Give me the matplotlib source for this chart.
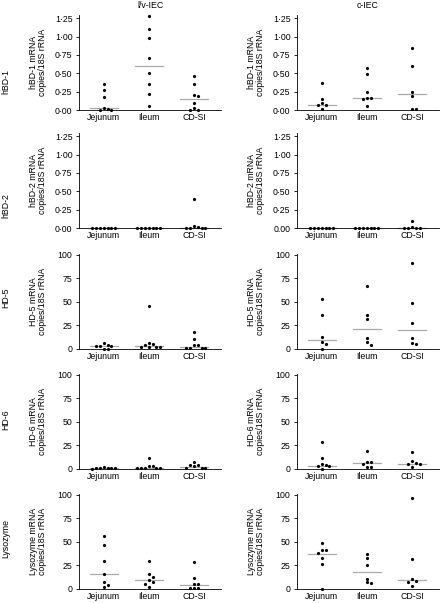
import numpy as np
import matplotlib
matplotlib.use("Agg")
from matplotlib import pyplot as plt

plt.rcParams['font.family'] = ['Liberation Sans', 'DejaVu Sans']

# Categories and labels
sites = ["Jejunum", "Ileum", "CD-SI"]
columns = ["l/v-IEC", "c-IEC"]
genes = ["hBD-1", "hBD-2", "HD-5", "HD-6", "Lysozyme"]

bd_ticks = [0, 0.25, 0.5, 0.75, 1.0, 1.25]
bd_labels = ["0·00", "0·25", "0·50", "0·75", "1·00", "1·25"]
bd_labels_alt = ["0.00", "0·25", "0·50", "0·75", "1·00", "1·25"]
hd_ticks = [0, 25, 50, 75, 100]
hd_labels = ["0", "25", "50", "75", "100"]

# mRNA copies/18S rRNA, one list per site (Jejunum, Ileum, CD-SI)
hbd1_lv = [[0.36, 0.27, 0.18, 0.02, 0.0, 0.0, 0.03],
           [1.28, 1.11, 0.98, 0.71, 0.50, 0.35, 0.22, 0.05],
           [0.47, 0.36, 0.19, 0.205, 0.09, 0.03, 0.0, 0.0]]
hbd1_lv_med = [0.03, 0.605, 0.145]
hbd1_c = [[0.37, 0.15, 0.09, 0.065, 0.065, 0.01],
          [0.57, 0.49, 0.24, 0.16, 0.15, 0.16, 0.055],
          [0.85, 0.60, 0.24, 0.19, 0.01, 0.015]]
hbd1_c_med = [0.065, 0.165, 0.215]

hbd2_lv = [[0, 0, 0, 0, 0, 0, 0],
           [0, 0, 0, 0, 0, 0, 0],
           [0.03, 0, 0, 0, 0, 0.39, 0.02]]
hbd2_lv_med = [0, 0, 0]
hbd2_c = [[0, 0, 0, 0, 0, 0, 0],
          [0, 0, 0, 0, 0, 0, 0],
          [0.1, 0.015, 0, 0, 0, 0]]
hbd2_c_med = [0, 0, 0]

hd5_lv = [[3.5, 3.5, 6.5, 0.5, 0.5, 3.5, 4.5],
          [45.5, 4.5, 6.5, 2.5, 2, 2, 2, 5.3],
          [18.4, 10.6, 4.6, 1, 1, 1, 1, 4.6]]
hd5_lv_med = [3.5, 3.5, 2]
hd5_c = [[53, 35.8, 12.4, 7.8, 5, 0],
         [67.4, 35.8, 31.9, 12, 7, 4.3],
         [91, 49.3, 28, 12, 6.7, 5]]
hd5_c_med = [9.2, 21.3, 19.9]

hd6_lv = [[1.6, 1, 0.8, 0.5, 0.8, 1, 1.2],
          [12, 3.5, 1.5, 1, 0.8, 0.8, 1, 2.8],
          [4.6, 2.8, 7.4, 1, 1, 1, 3.9]]
hd6_lv_med = [1, 1, 2]
hd6_c = [[29, 11.7, 5.7, 3.5, 3.9, 3.5, 0.4],
         [19.5, 7.4, 7.4, 5.7, 1.8, 1.8],
         [18, 8.8, 5.7, 5.7, 6, 1.8]]
hd6_c_med = [3.5, 6, 5.7]

lyso_lv = [[56.4, 46.5, 29.8, 16, 7, 3.9, 2.1],
           [30, 16, 12.4, 9.2, 7.8, 5.7, 1.8],
           [28.4, 11.3, 5.3, 1.4, 1.4, 1.4, 5.3]]
lyso_lv_med = [16, 9.2, 3.9]
lyso_c = [[49, 41, 41, 38, 33, 27, 0.4],
          [37, 32.6, 25.5, 11, 6.7, 7],
          [96.5, 31.9, 8.5, 7.8, 10.3, 3.5]]
lyso_c_med = [37.6, 17.7, 9.6]

panels = [[(hbd1_lv, hbd1_lv_med), (hbd1_c, hbd1_c_med)],
          [(hbd2_lv, hbd2_lv_med), (hbd2_c, hbd2_c_med)],
          [(hd5_lv, hd5_lv_med), (hd5_c, hd5_c_med)],
          [(hd6_lv, hd6_lv_med), (hd6_c, hd6_c_med)],
          [(lyso_lv, lyso_lv_med), (lyso_c, lyso_c_med)]]

# Layout (pixels)
W, H = 441, 603
col_left = [79, 297]
ax_w = 142
row_bottom = [110, 228, 349, 469, 589]
ax_h = 95
row_label_y = [82, 206, 298, 420, 538]
xlim = (-0.55, 2.6)


def swarm(vals, ymax, step_px=3.8, r_px=3.6):
    # simple beeswarm: offsets (in x units) so that dots do not overlap
    x_per_px = (xlim[1] - xlim[0]) / ax_w
    y_px = np.asarray(vals, float) / ymax * ax_h
    order = np.argsort(-y_px, kind='stable')
    placed = []
    offs = np.zeros(len(vals))
    for i in order:
        k = 0
        while True:
            cand = [0] if k == 0 else [k, -k]
            ok = None
            for c in cand:
                px = c * step_px
                if all((px - p[0]) ** 2 + (y_px[i] - p[1]) ** 2 >= r_px ** 2 for p in placed):
                    ok = px
                    break
            if ok is not None:
                placed.append((ok, y_px[i]))
                offs[i] = ok * x_per_px
                break
            k += 1
    return offs


fig = plt.figure(figsize=(W / 100, H / 100), dpi=100)

for r, gene in enumerate(genes):
    for c, col in enumerate(columns):
        data, med = panels[r][c]
        ax = fig.add_axes([col_left[c] / W, 1 - row_bottom[r] / H, ax_w / W, ax_h / H])
        if r < 2:
            ymax = 1.295
            ticks = bd_ticks
            labels = bd_labels_alt if (r == 1 and c == 1) else bd_labels
        else:
            ymax = 101
            ticks = hd_ticks
            labels = hd_labels

        for i, vals in enumerate(data):
            offs = swarm(vals, ymax)
            ax.plot(i + offs, vals, 'o', color='black', ms=2.3, mec='none', clip_on=False, zorder=3)
            ax.plot([i - 0.31, i + 0.31], [med[i], med[i]], color='#aaaaaa', lw=0.9, zorder=2,
                    clip_on=False)

        ax.set_xlim(*xlim)
        ax.set_ylim(0, ymax)
        ax.set_xticks(range(len(sites)))
        ax.set_xticklabels(sites, fontsize=6.3)
        ax.set_yticks(ticks)
        ax.set_yticklabels(labels, fontsize=6.3)
        ax.tick_params(axis='x', length=0, pad=2.5)
        ax.tick_params(axis='y', length=2.2, width=0.6, pad=2.5)
        for s in ['top', 'right']:
            ax.spines[s].set_visible(False)
        for s in ['left', 'bottom']:
            ax.spines[s].set_linewidth(0.6)
        ax.text(-0.29, 0.5, gene + " mRNA\ncopies/18S rRNA", transform=ax.transAxes,
                rotation=90, ha='center', va='center', fontsize=6.3, linespacing=1.0)
        if r == 0:
            ax.set_title(col, fontsize=6.3, pad=5)

    fig.text(6 / W, 1 - row_label_y[r] / H, gene, rotation=90, ha='center', va='center', fontsize=6.3)

fig.savefig("out.png", dpi=100)
